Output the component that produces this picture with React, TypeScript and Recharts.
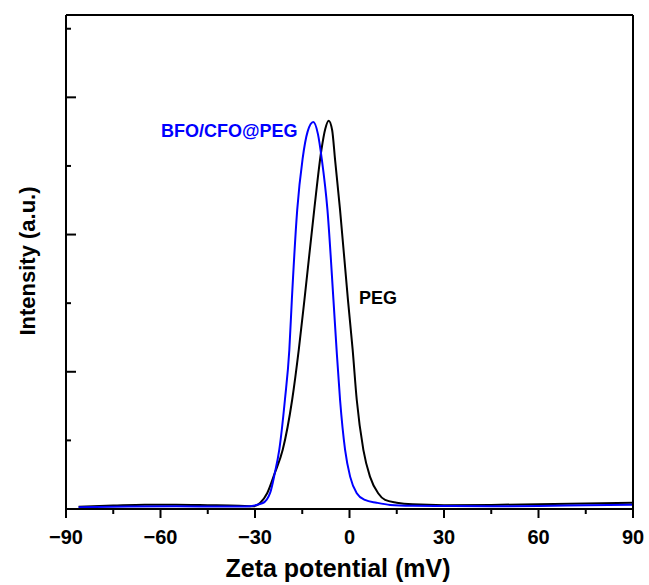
import React from "react";
import { LineChart, Line, XAxis, YAxis } from "recharts";

// PEG (black) zeta potential distribution
const pegX = [-86, -75, -65, -55, -45, -35, -30.6, -28.4, -26.1, -23.7, -21.2, -18.2, -16.1, -14.3, -11.2, -8.9, -7.7, -6.6, -5.5, -4.6, -3.0, -0.5, 1.0, 2.3, 4.4, 6.5, 9.1, 11.3, 15.0, 20, 30, 45, 60, 75, 90];
const pegY = [0.017, 0.025, 0.031, 0.031, 0.028, 0.024, 0.02, 0.044, 0.117, 0.263, 0.431, 0.796, 1.161, 1.526, 2.18, 2.62, 2.77, 2.83, 2.76, 2.55, 2.18, 1.526, 1.161, 0.796, 0.431, 0.236, 0.115, 0.066, 0.046, 0.034, 0.028, 0.03, 0.035, 0.04, 0.046];

// BFO/CFO@PEG (blue)
const bfoX = [-86, -70, -55, -40, -33.2, -27.5, -25.2, -23.7, -22.3, -20.5, -19.1, -18.3, -16.6, -14.9, -13.3, -11.5, -10.0, -8.8, -7.0, -5.1, -4.1, -3.0, -1.4, 0.2, 2.3, 4.9, 8.6, 12.9, 20, 30, 45, 60, 75, 90];
const bfoY = [0.012, 0.018, 0.02, 0.018, 0.018, 0.044, 0.117, 0.263, 0.431, 0.796, 1.161, 1.526, 2.18, 2.55, 2.75, 2.82, 2.73, 2.55, 2.18, 1.526, 1.161, 0.796, 0.431, 0.236, 0.115, 0.066, 0.046, 0.03, 0.024, 0.022, 0.02, 0.022, 0.027, 0.031];

const xTicks = [-90, -75, -60, -45, -30, -15, 0, 15, 30, 45, 60, 75, 90];
const yTicks = [0, 0.5, 1, 1.5, 2, 2.5, 3, 3.5];

const pegData = pegX.map((x, i) => ({ x, y: pegY[i] }));
const bfoData = bfoX.map((x, i) => ({ x, y: bfoY[i] }));

const FONT = "'Liberation Sans', Arial, Helvetica, sans-serif";

function fmt(v: number) {
  return String(v).replace("-", "\u2212");
}

function BottomTick(props: any) {
  const { x, y, payload } = props;
  const major = payload.value % 30 === 0;
  return (
    <g>
      <line x1={x} x2={x} y1={y} y2={y + (major ? 9 : 5)} stroke="#000" strokeWidth={2} />
      {major && (
        <text x={x} y={y + 35} textAnchor="middle" fontFamily={FONT} fontWeight="bold" fontSize={20} fill="#000">
          {fmt(payload.value)}
        </text>
      )}
    </g>
  );
}

function TopTick(props: any) {
  const { x, y, payload } = props;
  const major = payload.value % 30 === 0;
  return <line x1={x} x2={x} y1={y} y2={y + (major ? 9 : 5)} stroke="#000" strokeWidth={2} />;
}

function LeftTick(props: any) {
  const { x, y, payload } = props;
  const major = payload.value % 1 === 0;
  return <line x1={x} x2={x + (major ? 10 : 5)} y1={y} y2={y} stroke="#000" strokeWidth={2} />;
}

function RightTick(props: any) {
  const { x, y, payload } = props;
  const major = payload.value % 1 === 0;
  return <line x1={x} x2={x + (major ? 9 : 5)} y1={y} y2={y} stroke="#000" strokeWidth={2} />;
}

const axisLine = { stroke: "#000", strokeWidth: 2 };

export default function App() {
  return (
    <div style={{ position: "absolute", left: 0, top: 0, background: "#fff" }}>
      <LineChart width={649} height={585} margin={{ top: 0, right: 0, bottom: 0, left: 0 }}>
        <XAxis
          xAxisId="b"
          type="number"
          dataKey="x"
          domain={[-90, 90]}
          ticks={xTicks}
          interval={0}
          height={76}
          tickSize={0}
          tickMargin={0}
          axisLine={axisLine}
          tick={<BottomTick />}
        />
        <XAxis
          xAxisId="t"
          orientation="top"
          type="number"
          dataKey="x"
          domain={[-90, 90]}
          ticks={xTicks}
          interval={0}
          height={15}
          tickSize={0}
          tickMargin={0}
          axisLine={axisLine}
          tick={<TopTick />}
        />
        <YAxis
          yAxisId="l"
          type="number"
          domain={[0, 3.6]}
          ticks={yTicks}
          interval={0}
          width={66}
          tickSize={0}
          tickMargin={0}
          axisLine={axisLine}
          tick={<LeftTick />}
        />
        <YAxis
          yAxisId="r"
          orientation="right"
          type="number"
          domain={[0, 3.6]}
          ticks={yTicks}
          interval={0}
          width={16}
          tickSize={0}
          tickMargin={0}
          axisLine={axisLine}
          tick={<RightTick />}
        />
        <Line
          xAxisId="b"
          yAxisId="l"
          data={pegData}
          dataKey="y"
          type="monotone"
          stroke="#000"
          strokeWidth={2}
          dot={false}
          isAnimationActive={false}
        />
        <Line
          xAxisId="b"
          yAxisId="l"
          data={bfoData}
          dataKey="y"
          type="monotone"
          stroke="#0000ff"
          strokeWidth={2}
          dot={false}
          isAnimationActive={false}
        />
        <text x={161} y={137} fontFamily={FONT} fontWeight="bold" fontSize={18} fill="#0000ff">
          BFO/CFO@PEG
        </text>
        <text x={359} y={304} fontFamily={FONT} fontWeight="bold" fontSize={18} fill="#000">
          PEG
        </text>
        <text x={338} y={577} textAnchor="middle" fontFamily={FONT} fontWeight="bold" fontSize={25} fill="#000">
          Zeta potential (mV)
        </text>
        <text
          x={35}
          y={261}
          transform="rotate(-90 35 261)"
          textAnchor="middle"
          fontFamily={FONT}
          fontWeight="bold"
          fontSize={22}
          fill="#000"
        >
          Intensity (a.u.)
        </text>
      </LineChart>
    </div>
  );
}
